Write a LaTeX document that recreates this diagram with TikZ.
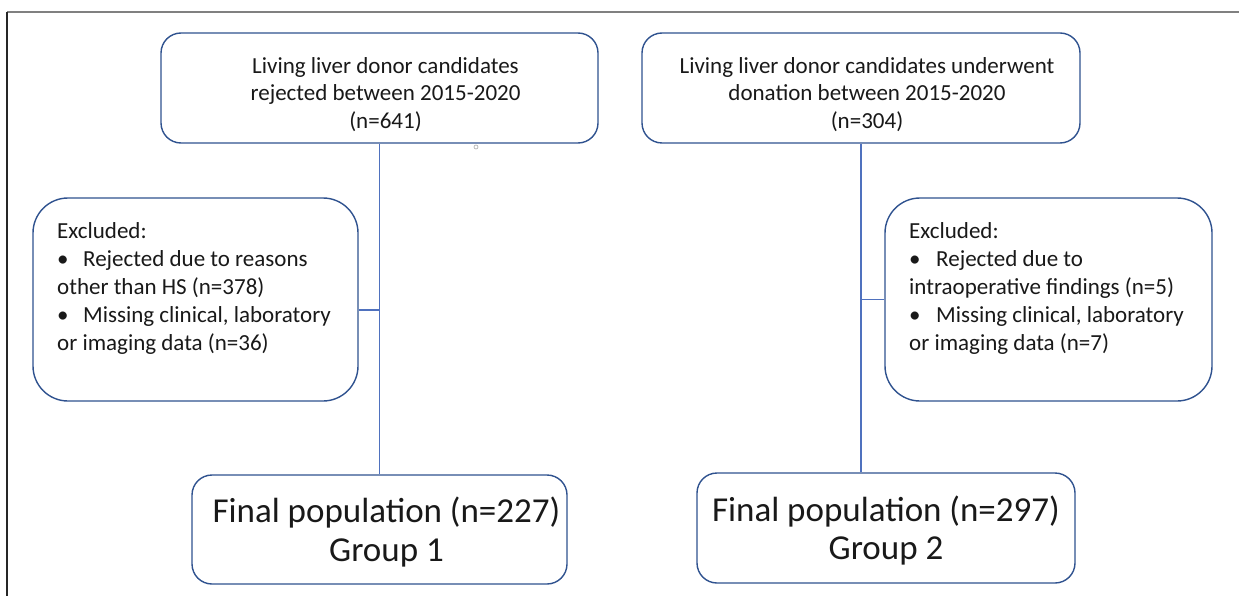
\documentclass[tikz,border=0pt]{standalone}
\usepackage{fontspec}
\setmainfont{Carlito}
\usetikzlibrary{calc}
\definecolor{boxblue}{RGB}{47,82,143}
\definecolor{linkblue}{RGB}{79,113,190}
\definecolor{framegray}{RGB}{128,128,128}
\begin{document}
\begin{tikzpicture}[x=1pt,y=-1pt,
  box/.style={draw=boxblue, line width=1.4pt, rounded corners=20pt, fill=white, inner sep=0pt},
  exclbox/.style={box, rounded corners=35pt},
  link/.style={draw=linkblue, line width=1.1pt},
  txt/.style={inner sep=0pt, text=black!90, font=\fontsize{23}{27.5}\selectfont},
  listtxt/.style={txt, align=left, anchor=north west, font=\fontsize{23}{28}\selectfont},
  bigtxt/.style={inner sep=0pt, text=black!90, align=center, anchor=north, font=\fontsize{35}{38.5}\selectfont}
]
\useasboundingbox (0,0) rectangle (1239,596);

% frame lines along the top and left edges
\draw[framegray, line width=2pt] (7,12.5) -- (1239,12.5);
\draw[black!85, line width=1.2pt] (7,12) -- (7,596);

% boxes
\node[box, minimum width=437pt, minimum height=110pt] (A) at (379.5,88) {};
\node[box, minimum width=438pt, minimum height=110pt] (B) at (861,88) {};
\node[exclbox, minimum width=325pt, minimum height=203pt] (C) at (195.5,299.5) {};
\node[exclbox, minimum width=327pt, minimum height=203pt] (D) at (1048.5,299.5) {};
\node[box, minimum width=375pt, minimum height=109pt] (E) at (379.5,529.5) {};
\node[box, minimum width=378pt, minimum height=110pt] (F) at (886,528) {};

% connectors
\coordinate (cl) at ($(C.east)+(0,10.5)$);
\draw[link] (A.south) -- (E.north);
\draw[link] (cl) -- (cl -| A.south);
\draw[link] (B.south) -- (B.south |- F.north);
\draw[link] (D.west) -- (D.west -| B.south);

% small marker circle
\node[draw=gray!70, circle, inner sep=0pt, minimum size=4pt, line width=0.6pt] (dot) at (476,147) {};

% texts
\node[txt, align=center, anchor=north] (tA) at (385.5,57)
  {Living liver donor candidates\\rejected between 2015-2020\\(n=641)};
\node[txt, align=center, anchor=north] (tB) at (867,57)
  {Living liver donor candidates underwent\\donation between 2015-2020\\(n=304)};
\node[listtxt] (tC) at (57,222)
  {Excluded:\\\makebox[26pt][l]{•}Rejected due to reasons\\other than HS (n=378)\\\makebox[26pt][l]{•}Missing clinical, laboratory\\or imaging data (n=36)};
\node[listtxt] (tD) at (909,222)
  {Excluded:\\\makebox[27pt][l]{•}Rejected due to\\intraoperative findings (n=5)\\\makebox[27pt][l]{•}Missing clinical, laboratory\\or imaging data (n=7)};
\node[bigtxt] (tE) at (386.5,497) {Final population (n=227)\\Group 1};
\node[bigtxt] (tF) at (886,495.5) {Final population (n=297)\\Group 2};
\end{tikzpicture}
\end{document}
